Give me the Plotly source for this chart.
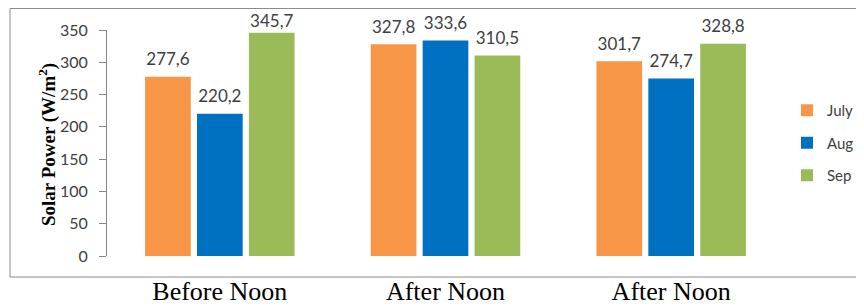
import plotly.graph_objects as go

categories = ["Before Noon", "After Noon", "After Noon"]
series_names = ["July", "Aug", "Sep"]
july = [277.6, 327.8, 301.7]
aug = [220.2, 333.6, 274.7]
sep = [345.7, 310.5, 328.8]
y_ticks = [0, 50, 100, 150, 200, 250, 300, 350]

colors = ["#F79646", "#0070C0", "#9BBB59"]
label_pad = [[10, 10, 10], [10, 10, 10], [1, 10, 10]]
x_pos = list(range(len(categories)))

fig = go.Figure()
for i, (name, vals) in enumerate(zip(series_names, [july, aug, sep])):
    fig.add_trace(go.Bar(
        x=x_pos, y=vals, name=name, marker=dict(color=colors[i], line=dict(width=0)),
        offsetgroup=str(i), legendgroup=name,
    ))
for i, (name, vals) in enumerate(zip(series_names, [july, aug, sep])):
    fig.add_trace(go.Scatter(
        x=x_pos, y=vals, mode="markers+text", offsetgroup=str(i), showlegend=False,
        marker=dict(size=label_pad[i], opacity=0, color=colors[i]),
        texttemplate="%{y:.1f}", textposition="top center",
        textfont=dict(family="Lato, Open Sans, sans-serif", size=17, color="#404040"),
        cliponaxis=False, hoverinfo="skip",
    ))

# page has an 8px body margin; figure sized to fill the rest of the 864x306 window
OFF = 8
W, H = 864 - OFF, 306 - OFF
L, R, T, B = 107 - OFF, 80, 30 - OFF, 50
pw, ph = W - L - R, H - T - B


def px(xr):
    return (xr - OFF - L) / pw


def py(yr):
    return (H - B - (yr - OFF)) / ph


fig.update_layout(
    width=W, height=H, margin=dict(l=L, r=R, t=T, b=B, autoexpand=False),
    paper_bgcolor="white", plot_bgcolor="white",
    separators=",.",
    barmode="group", bargap=0.31, bargroupgap=0.12,
    scattermode="group", scattergap=0.31,
    showlegend=True,
    legend=dict(x=px(787), xanchor="left", y=py(143), yanchor="middle",
                font=dict(family="Lato, Open Sans, sans-serif", size=15, color="#404040"),
                tracegroupgap=10, bgcolor="rgba(0,0,0,0)"),
    xaxis=dict(range=[-0.5, 2.5], tickvals=x_pos, ticktext=categories, showgrid=False,
               zeroline=False, showline=False, ticks="", ticklabelstandoff=17, automargin=False,
               tickfont=dict(family="Liberation Serif, Times New Roman, serif", size=26, color="black")),
    yaxis=dict(range=[0, 350], tickvals=y_ticks, showgrid=False, zeroline=False,
               showline=True, linecolor="#868686", linewidth=1, automargin=False,
               ticks="outside", ticklen=7, tickcolor="#868686", ticklabelstandoff=8,
               tickfont=dict(family="Lato, Open Sans, sans-serif", size=16, color="#404040")),
    annotations=[dict(text="Solar Power (W/m<sup>2</sup>)", textangle=-90, xref="paper", yref="paper",
                      x=px(47), y=py(145), xanchor="center", yanchor="middle",
                      showarrow=False,
                      font=dict(family="Liberation Serif, Times New Roman, serif", size=19, color="black", weight="bold"))],
    shapes=[dict(type="rect", xref="paper", yref="paper",
                 x0=px(10), x1=px(863.5), y0=py(277), y1=py(8.5),
                 line=dict(color="#8C8C8C", width=1), fillcolor="rgba(0,0,0,0)", layer="below")],
)

fig.write_html("out.html")
